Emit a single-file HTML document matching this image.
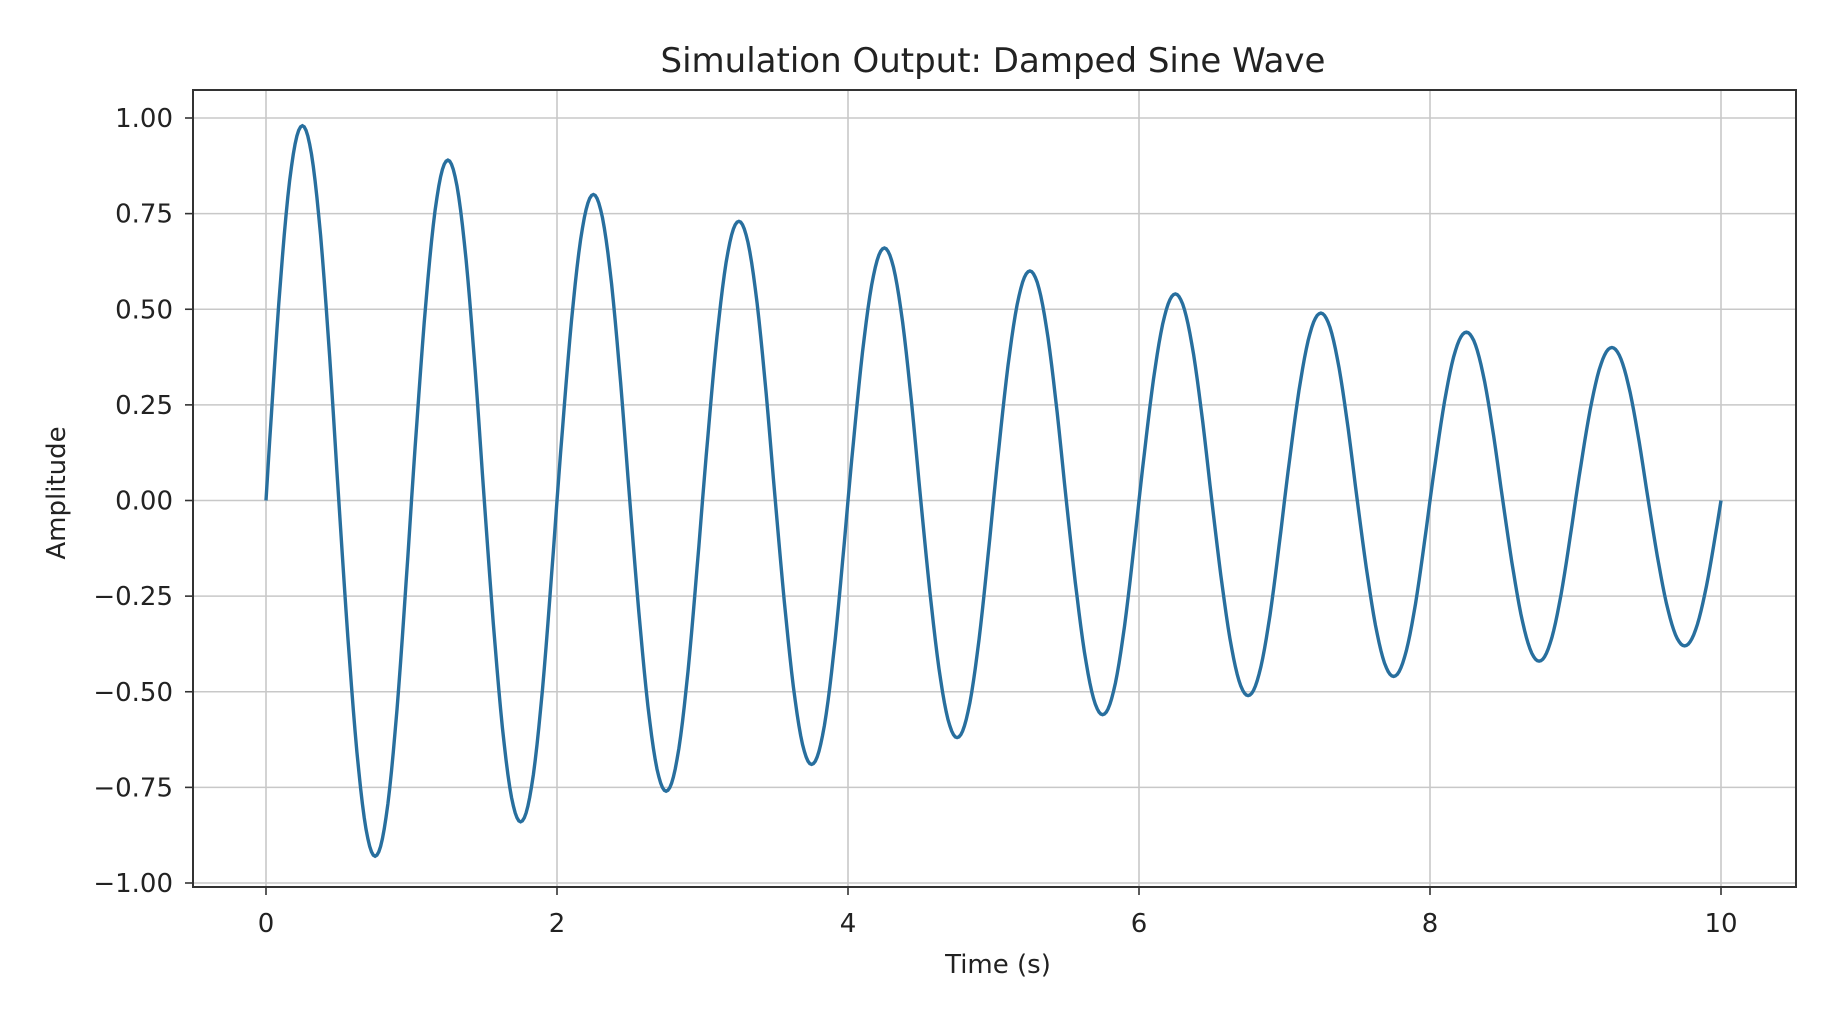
<!DOCTYPE html>
<html><head><meta charset="utf-8"><style>
html,body{margin:0;padding:0;background:#fff;}
svg{display:block;font-family:"DejaVu Sans","Liberation Sans",sans-serif;}
</style></head><body>
<svg id="chart" width="1830" height="1017" viewBox="0 0 1830 1017">
<text x="993" y="72" font-size="34" text-anchor="middle" fill="#222">Simulation Output: Damped Sine Wave</text>
<g id="grid"></g>
<g id="ticks"></g>
<path id="line" fill="none" stroke="#286f9e" stroke-width="3.4"></path>
<rect x="193" y="90" width="1603" height="797" fill="none" stroke="#333" stroke-width="2"></rect>
<text x="998" y="973" font-size="26" text-anchor="middle" fill="#222">Time (s)</text>
<text x="0" y="0" font-size="26" text-anchor="middle" fill="#222" transform="translate(65,493) rotate(-90)">Amplitude</text>
</svg>
<script>
const xTicks = [0, 2, 4, 6, 8, 10];
const yTicks = [1.00, 0.75, 0.50, 0.25, 0.00, -0.25, -0.50, -0.75, -1.00];
const yTickLabels = ["1.00", "0.75", "0.50", "0.25", "0.00", "\u22120.25", "\u22120.50", "\u22120.75", "\u22121.00"];
const extremaTimes = [0, 0.25, 0.5, 0.75, 1.0, 1.25, 1.5, 1.75, 2.0, 2.25, 2.5, 2.75, 3.0, 3.25, 3.5, 3.75, 4.0, 4.25, 4.5, 4.75, 5.0, 5.25, 5.5, 5.75, 6.0, 6.25, 6.5, 6.75, 7.0, 7.25, 7.5, 7.75, 8.0, 8.25, 8.5, 8.75, 9.0, 9.25, 9.5, 9.75, 10.0];
const extremaValues = [0, 0.98, 0, -0.93, 0, 0.89, 0, -0.84, 0, 0.80, 0, -0.76, 0, 0.73, 0, -0.69, 0, 0.66, 0, -0.62, 0, 0.60, 0, -0.56, 0, 0.54, 0, -0.51, 0, 0.49, 0, -0.46, 0, 0.44, 0, -0.42, 0, 0.40, 0, -0.38, 0];

const X = t => 266 + t * 145.5;
const Y = v => 500.5 - v * 382.5;
const NS = "http://www.w3.org/2000/svg";
const grid = document.getElementById('grid');
const ticks = document.getElementById('ticks');
function mk(tag, attrs, parent) {
  const e = document.createElementNS(NS, tag);
  for (const k in attrs) e.setAttribute(k, attrs[k]);
  parent.appendChild(e);
  return e;
}
xTicks.forEach(t => {
  const gl = mk('line', {x1: X(t), x2: X(t), y1: 90, y2: 887, stroke: '#c8c8c8', 'stroke-width': 1.6}, grid);
  
  
  const tk = mk('line', {x1: X(t), x2: X(t), y1: 887, y2: 895, stroke: '#333', 'stroke-width': 1.6}, ticks);
  
  
  const tx = mk('text', {x: X(t), y: 932, 'font-size': 26, 'text-anchor': 'middle', fill: '#222'}, ticks);
  tx.textContent = String(t);
  
  
});
yTicks.forEach((v, i) => {
  const gl = mk('line', {x1: 193, x2: 1796, y1: Y(v), y2: Y(v), stroke: '#c8c8c8', 'stroke-width': 1.6}, grid);
  
  
  const tk = mk('line', {x1: 185, x2: 193, y1: Y(v), y2: Y(v), stroke: '#333', 'stroke-width': 1.6}, ticks);
  
  
  const tx = mk('text', {x: 173, y: Y(v) + 9, 'font-size': 26, 'text-anchor': 'end', fill: '#222'}, ticks);
  tx.textContent = yTickLabels[i];
  
  
});
let d = '';
for (let i = 0; i < extremaTimes.length - 1; i++) {
  const t0 = extremaTimes[i], t1 = extremaTimes[i + 1];
  const v0 = extremaValues[i], v1 = extremaValues[i + 1];
  const steps = 20;
  for (let s = (i === 0 ? 0 : 1); s <= steps; s++) {
    const f = s / steps;
    const w = (1 - Math.cos(Math.PI * f)) / 2;
    let v;
    if (v0 === 0) v = v1 * Math.sin(Math.PI / 2 * f);
    else if (v1 === 0) v = v0 * Math.cos(Math.PI / 2 * f);
    else v = v0 + (v1 - v0) * w;
    const t = t0 + (t1 - t0) * f;
    d += (d ? 'L' : 'M') + X(t).toFixed(1) + ',' + Y(v).toFixed(1);
  }
}
document.getElementById('line').setAttribute('d', d);
</script>
</body></html>
